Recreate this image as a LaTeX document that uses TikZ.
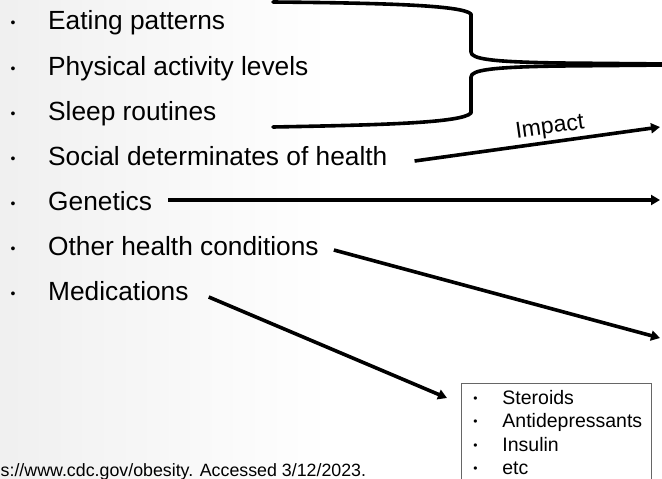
\documentclass[tikz,border=0pt]{standalone}
\usepackage{fontspec}
\setmainfont{Liberation Sans}
\usetikzlibrary{arrows.meta}

\newcommand{\itembul}{\makebox[37.5pt][l]{\fontsize{14}{14}\selectfont\raisebox{2pt}{•}}}
\newcommand{\boxbul}{\makebox[32pt][l]{\hspace{3pt}\fontsize{12}{12}\selectfont\raisebox{2pt}{•}}}

\tikzset{
	item/.style={anchor=base west, inner sep=0pt, font=\fontsize{26.3}{26.3}\selectfont},
	arr/.style={line width=3.6pt, -{Triangle[length=9pt,width=10pt]}},
	brc/.style={line width=3.6pt, line cap=round, line join=round},
	lbl/.style={sloped, above=2pt, pos=0.56, inner sep=0pt, font=\fontsize{23}{23}\selectfont},
	medbox/.style={draw=black!60, line width=0.8pt, anchor=north west, align=left,
		text width=172pt, inner xsep=9pt, inner ysep=7pt, font=\fontsize{19.5}{23.3}\selectfont}
}

\begin{document}
\begin{tikzpicture}[x=1pt,y=-1pt]
		\useasboundingbox (0,0) rectangle (662,479);
		\clip (0,0) rectangle (662,479);
		\shade[left color=black!6, right color=white] (0,0) rectangle (330,479);

		\node[item] (eat) at (10.5,30) {\itembul Eating patterns};
		\node[item] (phys) at (10.5,75) {\itembul Physical activity levels};
		\node[item] (sleep) at (10.5,120) {\itembul Sleep routines};
		\node[item] (soc) at (10.5,165) {\itembul Social determinates of health};
		\node[item] (gen) at (10.5,210) {\itembul Genetics};
		\node[item] (oth) at (10.5,255) {\itembul Other health conditions};
		\node[item] (med) at (10.5,300) {\itembul Medications};

		\node[medbox] (medbox) at (461,383) {\boxbul Steroids\\ \boxbul Antidepressants\\ \boxbul Insulin\\ \boxbul etc};

		\node[anchor=base west, inner sep=0pt, font=\fontsize{17.8}{17.8}\selectfont] (src) at (0.5,476) {s://www.cdc.gov/obesity. Accessed 3/12/2023.};

		\coordinate (tipsoc) at (660,127);
		\coordinate (tipgen) at (660,200);
		\coordinate (tipoth) at (660,338);

		\draw[brc] (273,2) .. controls (380,3) and (462,5) .. (471,14) -- (471,52) .. controls (471,59) and (492,62) .. (560,63) -- (668,64);
		\draw[brc] (668,65) -- (560,66) .. controls (492,67) and (471,70) .. (471,77) -- (471,113) .. controls (462,123) and (380,125) .. (273,127);

		\draw[arr] ([xshift=27pt,yshift=4pt]soc.base east) -- node[lbl] (impact) {Impact} (tipsoc);
		\draw[arr] ([xshift=16pt,yshift=10pt]gen.base east) -- (tipgen);
		\draw[arr] ([xshift=15pt,yshift=5pt]oth.base east) -- (tipoth);
		\draw[arr] ([xshift=20pt,yshift=3pt]med.base east) -- ([xshift=-14pt,yshift=-15pt]medbox.north west);
	\end{tikzpicture}
\end{document}
